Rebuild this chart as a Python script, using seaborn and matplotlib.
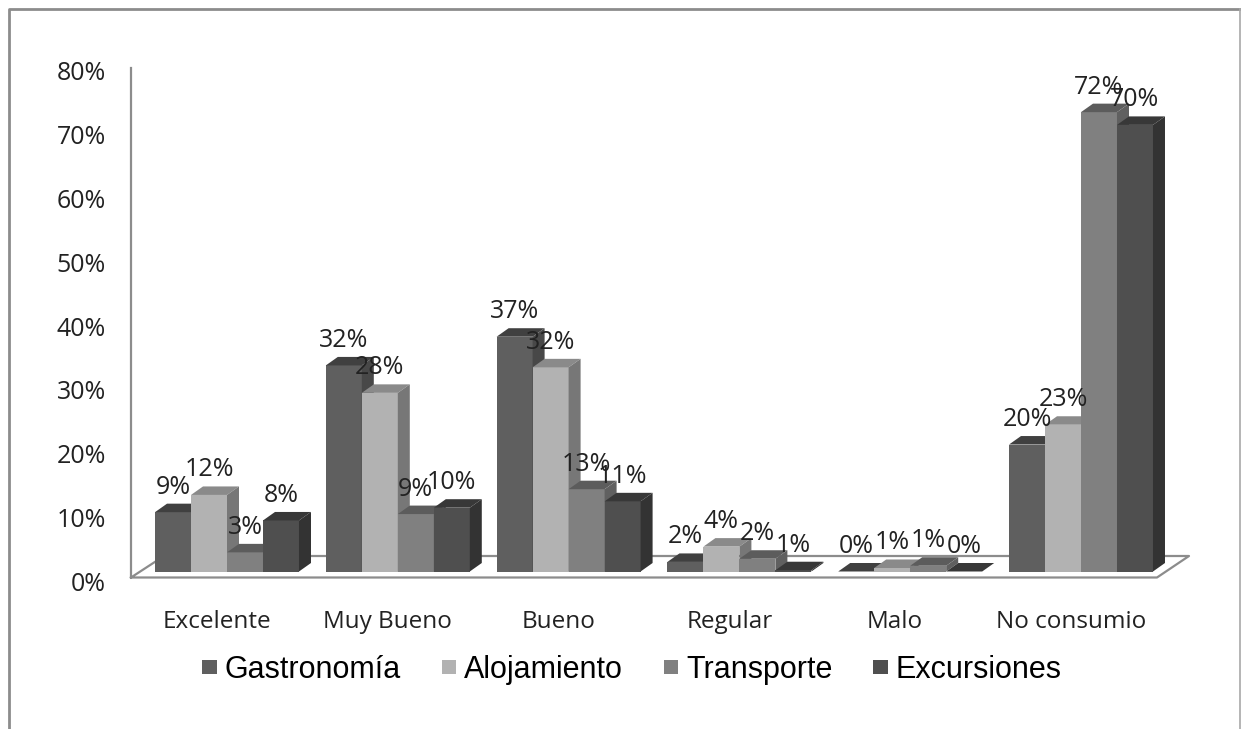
import matplotlib
matplotlib.use("Agg")
import matplotlib.pyplot as plt
import pandas as pd
import seaborn as sns
from matplotlib.lines import Line2D
from matplotlib.patches import Polygon
from matplotlib.transforms import ScaledTranslation

categorias = ["Excelente", "Muy Bueno", "Bueno", "Regular", "Malo", "No consumio"]
gastronomia = [9.3, 32.3, 36.8, 1.5, 0, 19.9]
alojamiento = [12, 28, 32, 3.9, 0.55, 23]
transporte = [3, 9, 12.9, 2, 0.9, 72]
excursiones = [8, 10, 11, 0.2, 0, 70]
etiquetas = [
    ["9%", "32%", "37%", "2%", "0%", "20%"],
    ["12%", "28%", "32%", "4%", "1%", "23%"],
    ["3%", "9%", "13%", "2%", "1%", "72%"],
    ["8%", "10%", "11%", "1%", "0%", "70%"],
]
series = ["Gastronomía", "Alojamiento", "Transporte", "Excursiones"]

frente = ["#5f5f5f", "#b2b2b2", "#808080", "#4f4f4f"]
arriba = ["#404040", "#8a8a8a", "#5c5c5c", "#383838"]
lado = ["#484848", "#777777", "#606060", "#333333"]

W, H = 1241, 729
fig = plt.figure(figsize=(W / 100, H / 100), dpi=100)

# pixel layout of the plot area
left, right = 131, 1188
top, bottom = 56, 577
ax = fig.add_axes([left / W, 1 - bottom / H, (right - left) / W, (bottom - top) / H])
ax.patch.set_visible(False)

df = pd.DataFrame({"cat": categorias, "Gastronomía": gastronomia, "Alojamiento": alojamiento,
                   "Transporte": transporte, "Excursiones": excursiones})
largo = df.melt(id_vars="cat", var_name="serie", value_name="valor")
sns.barplot(data=largo, x="cat", y="valor", hue="serie", hue_order=series,
            palette=frente, width=0.843, gap=0, saturation=1, linewidth=0, ax=ax)

px_x = 170.8
px_y = 6.38
ax.set_xlim((left - 227) / px_x, (right - 227) / px_x)
ax.set_ylim((571.5 - bottom) / px_y, (571.5 - top) / px_y)

# fake 3d: top and side of each bar
dx, dy = 12 / px_x, 8.5 / px_y
for i, cont in enumerate(ax.containers):
    for b in cont:
        b.set_zorder(3 + i)
        x0, x1 = b.get_x(), b.get_x() + b.get_width()
        h = b.get_height()
        ax.add_patch(Polygon([(x0, h), (x1, h), (x1 + dx, h + dy), (x0 + dx, h + dy)],
                             fc=arriba[i], ec="none", zorder=3 + i))
        ax.add_patch(Polygon([(x1, 0), (x1 + dx, dy), (x1 + dx, h + dy), (x1, h)],
                             fc=lado[i], ec="none", zorder=3 + i))
    ax.bar_label(cont, labels=etiquetas[i], padding=9, fontsize=18, color="#222222",
                 family="Open Sans", zorder=10)

for s in ["top", "right", "bottom"]:
    ax.spines[s].set_visible(False)
ax.spines["left"].set_color("#8c8c8c")
ax.spines["left"].set_linewidth(1.6)
ax.spines["left"].set_bounds((571.5 - bottom) / px_y, (571.5 - 68) / px_y)

ax.set_yticks(range(0, 81, 10))
ax.set_yticklabels([f"{v}%" for v in range(0, 81, 10)])
ax.set_xlabel("")
ax.set_ylabel("")
ax.tick_params(axis="y", length=0, pad=18, labelsize=18, labelcolor="#222222")
ax.tick_params(axis="x", length=0, pad=24, labelsize=17.5, labelcolor="#222222")
baja_y = ScaledTranslation(0, -7 / 72, fig.dpi_scale_trans)
for t in ax.get_yticklabels():
    t.set_family("Open Sans")
    t.set_transform(t.get_transform() + baja_y)
# category labels sit a bit left of their group, Malo more so
corre_px = [-10, -10, -10, -10, -16, -10]
for t, c in zip(ax.get_xticklabels(), corre_px):
    t.set_family("Open Sans")
    t.set_transform(t.get_transform() + ScaledTranslation(c / 100, 0, fig.dpi_scale_trans))

sns.move_legend(ax, "center", bbox_to_anchor=(632 / W, 1 - 670 / H), bbox_transform=fig.transFigure,
                ncol=4, frameon=False, title=None, prop={"family": "Liberation Sans", "size": 22},
                handlelength=0.47, handleheight=0.35, handletextpad=0.26, columnspacing=1.34)

# floor lines and the outer border, in pixels
def linea(xs, ys, lw=1.6, color="#8c8c8c"):
    fig.add_artist(Line2D([x / W for x in xs], [1 - y / H for y in ys], color=color,
                          lw=lw, zorder=-1))

linea([131, 1157, 1189, 164, 131], [577.5, 577.5, 556, 556, 577.5])
linea([9, 9, 1240], [729, 9, 9], lw=2.0)
linea([1240, 1240], [9, 729], lw=1.2, color="#a8a8a8")

fig.savefig("out.png", dpi=100)
